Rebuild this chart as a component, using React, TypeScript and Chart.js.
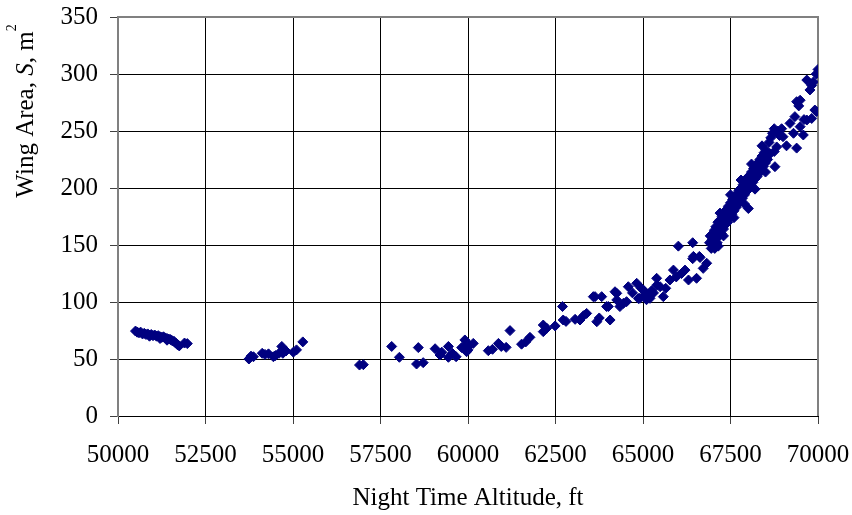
import React, { useEffect, useRef } from "react";
import { Chart, registerables } from "chart.js";

Chart.register(...registerables);

// Tick values
const xTicks = [50000, 52500, 55000, 57500, 60000, 62500, 65000, 67500, 70000];
const yTicks = [0, 50, 100, 150, 200, 250, 300, 350];

// Data: [night time altitude (ft), wing area (m^2)]
const lowAltitudeGroup: number[][] = [
  [50500, 74.5], [50550, 73.5], [50600, 73], [50650, 73.5], [50700, 72], [50750, 72.5],
  [50800, 71.5], [50850, 72], [50900, 71], [50950, 71.5], [51000, 70.5], [51050, 71],
  [51100, 70], [51150, 70.5], [51200, 69.5], [51250, 69], [51300, 69.5], [51350, 68.5],
  [51400, 68], [51450, 67.5], [51500, 67], [51550, 66], [51600, 65.5], [51650, 64],
  [51700, 62.5], [51750, 61.5], [51900, 64], [51980, 63.5], [50900, 70], [51200, 68],
  [51400, 66.5],
];

const midAltitudeGroup: number[][] = [
  [53740, 50], [53800, 52.5], [53870, 52], [54120, 55], [54200, 54], [54300, 54.5],
  [54440, 52], [54500, 53], [54600, 55], [54680, 61], [54710, 55], [54800, 57],
  [55010, 56], [55100, 58], [55280, 65], [56900, 44.7], [57010, 45],
];

const risingGroup: number[][] = [
  [57820, 61], [58040, 51.5], [58580, 60], [58530, 45.6], [58720, 46.8], [59060, 59],
  [59200, 53.5], [59250, 56], [59440, 61], [59440, 51.5], [59550, 55], [59660, 52],
  [59820, 60], [59910, 66.7], [59960, 56.4], [59910, 61], [60000, 58], [60050, 62],
  [60150, 63.7], [60580, 57.3], [60700, 58.5], [60870, 63.7], [60950, 61], [61090, 60.2],
  [61200, 74.9], [61530, 63], [61650, 65], [61770, 69], [62150, 79.8], [62150, 74],
  [62250, 77], [62490, 79], [62700, 96], [62720, 84.2], [62800, 83], [63060, 84.8],
  [63200, 84.2], [63300, 88], [63390, 90], [63580, 104.7], [63630, 104.7], [63680, 82.7],
  [63750, 86], [63820, 104.7], [63960, 96], [64010, 96], [64060, 84.2], [64200, 109],
  [64250, 107.6], [64250, 101.8], [64340, 96], [64440, 98.8], [64530, 100.3], [64580, 113.4],
  [64700, 108], [64820, 116.4], [64870, 103], [64910, 103.2], [64950, 112], [65010, 110.5],
  [65050, 106], [65100, 102], [65150, 107], [65200, 103.2], [65250, 110], [65300, 108],
  [65390, 120.8], [65400, 115], [65490, 113.4], [65580, 104.7], [65650, 112], [65770, 119.3],
  [65870, 128], [65950, 122], [66010, 149], [66100, 125], [66200, 128], [66300, 119.3],
  [66420, 152], [66420, 138], [66440, 140], [66530, 120.8], [66610, 140], [66630, 139],
  [66720, 129.5], [66820, 134],
];

const steepGroup: number[][] = [
  [66900, 152], [66920, 158], [66950, 147], [66980, 155], [67000, 160], [67020, 150],
  [67040, 163], [67060, 156], [67080, 166], [67100, 160], [67120, 152], [67140, 170],
  [67160, 163], [67180, 158], [67200, 172], [67220, 167], [67240, 160], [67260, 175],
  [67280, 170], [67300, 164], [67320, 178], [67340, 173], [67360, 168], [67380, 181],
  [67400, 176], [67420, 170], [67440, 184], [67460, 179], [67480, 174], [67500, 187],
  [67520, 182], [67540, 177], [67560, 190], [67580, 185], [67600, 180], [67620, 192],
  [67640, 187], [67660, 183], [67680, 195], [67700, 190], [67720, 186], [67740, 198],
  [67760, 193], [67780, 188], [67800, 200], [67820, 196], [67840, 191], [67860, 203],
  [67880, 198], [67900, 194], [67920, 206], [67940, 201], [67960, 197], [67980, 209],
  [68000, 204], [68010, 182], [68020, 199], [68040, 211], [68060, 207], [68080, 202],
  [68100, 214], [68120, 209], [68140, 205], [68160, 217], [68180, 212], [68200, 208],
  [68220, 220], [68240, 215], [68260, 210], [68280, 222], [68300, 218], [68320, 213],
  [68340, 225], [68360, 220], [68380, 216], [68400, 228], [68420, 223], [68440, 219],
  [68460, 231], [68480, 226], [68500, 222], [68520, 233], [68540, 229], [68560, 225],
  [68600, 240], [68630, 230], [68650, 244], [68700, 248], [68750, 252], [68750, 232],
  [68770, 218.7], [68820, 236], [68850, 250], [68900, 246], [68960, 252],
  [67050, 147], [67200, 178], [67300, 158], [67500, 194], [67600, 174], [67800, 207],
  [67900, 186], [68100, 221], [68200, 199], [68400, 237], [68500, 214], [67150, 149],
];

const topGroup: number[][] = [
  [69000, 245], [69100, 237], [69200, 256.7], [69300, 248], [69340, 262.6], [69390, 235],
  [69390, 275.7], [69450, 272], [69490, 277], [69490, 253.8], [69580, 246.5], [69600, 260],
  [69680, 259.6], [69680, 294.7], [69770, 286], [69820, 261], [69820, 290], [69870, 293],
  [69910, 268.4], [69960, 267], [69950, 300], [70000, 304],
];

const NAVY = "#000080";
const FONT_FAMILY = "'Liberation Serif', 'Times New Roman', serif";

const plotFramePlugin = {
  id: "plotFrame",
  beforeDatasetsDraw(chart: any) {
    const { ctx, chartArea } = chart;
    ctx.save();
    ctx.strokeStyle = "#808080";
    ctx.lineWidth = 2;
    ctx.beginPath();
    ctx.moveTo(chartArea.left, chartArea.top);
    ctx.lineTo(chartArea.right, chartArea.top);
    ctx.lineTo(chartArea.right, chartArea.bottom);
    ctx.stroke();
    ctx.restore();
  },
};

const yTitlePlugin = {
  id: "yTitleRich",
  afterDraw(chart: any) {
    const ctx = chart.ctx as CanvasRenderingContext2D;
    const parts = [
      { text: "Wing Area, ", font: `25px ${FONT_FAMILY}`, rise: 0 },
      { text: "S", font: `italic 25px ${FONT_FAMILY}`, rise: 0 },
      { text: ", m", font: `25px ${FONT_FAMILY}`, rise: 0 },
      { text: "2", font: `14px ${FONT_FAMILY}`, rise: 17 },
    ];
    ctx.save();
    let total = 0;
    const widths = parts.map((p) => {
      ctx.font = p.font;
      const w = ctx.measureText(p.text).width;
      total += w;
      return w;
    });
    ctx.translate(33, 111);
    ctx.rotate(-Math.PI / 2);
    ctx.fillStyle = "#000";
    ctx.textBaseline = "alphabetic";
    ctx.textAlign = "left";
    let x = -total / 2;
    parts.forEach((p, i) => {
      ctx.font = p.font;
      ctx.fillText(p.text, x, -p.rise);
      x += widths[i];
    });
    ctx.restore();
  },
};

export default function App() {
  const canvasRef = useRef<HTMLCanvasElement | null>(null);

  useEffect(() => {
    if (!canvasRef.current) return;
    const points = [
      ...lowAltitudeGroup,
      ...midAltitudeGroup,
      ...risingGroup,
      ...steepGroup,
      ...topGroup,
    ].map(([x, y]) => ({ x, y }));

    const chart = new Chart(canvasRef.current, {
      type: "scatter",
      data: {
        datasets: [
          {
            label: "Wing Area",
            data: points,
            pointStyle: "rectRot",
            pointRadius: 5,
            pointHoverRadius: 5,
            borderWidth: 1,
            backgroundColor: NAVY,
            borderColor: NAVY,
          },
        ],
      },
      options: {
        animation: false,
        responsive: true,
        maintainAspectRatio: false,
        events: [],
        layout: { padding: { top: 17, right: 34, left: 0, bottom: 0 } },
        plugins: {
          legend: { display: false },
          tooltip: { enabled: false },
        },
        scales: {
          x: {
            type: "linear",
            min: xTicks[0],
            max: xTicks[xTicks.length - 1],
            afterBuildTicks: (scale: any) => {
              scale.ticks = xTicks.map((v) => ({ value: v }));
            },
            afterFit: (scale: any) => {
              scale.height = 99;
              scale.paddingLeft = 0;
              scale.paddingRight = 0;
            },
            ticks: {
              color: "#000",
              font: { family: FONT_FAMILY, size: 25 },
              padding: 16,
              maxRotation: 0,
              autoSkip: false,
              callback: (v: any) => String(v),
            },
            grid: {
              color: "#000",
              lineWidth: 1,
              tickLength: 8,
              tickColor: "#404040",
            },
            border: { color: "#000", width: 1 },
            title: {
              display: true,
              text: "Night Time Altitude, ft",
              color: "#000",
              font: { family: FONT_FAMILY, size: 25 },
              padding: { top: 0, bottom: 2 },
            },
          },
          y: {
            type: "linear",
            min: yTicks[0],
            max: yTicks[yTicks.length - 1],
            afterBuildTicks: (scale: any) => {
              scale.ticks = yTicks.map((v) => ({ value: v }));
            },
            afterFit: (scale: any) => {
              scale.width = 118;
              scale.paddingTop = 0;
              scale.paddingBottom = 0;
            },
            ticks: {
              color: "#000",
              font: { family: FONT_FAMILY, size: 25 },
              padding: 12,
              autoSkip: false,
              callback: (v: any) => String(v),
            },
            grid: {
              color: "#000",
              lineWidth: 1,
              tickLength: 8,
              tickColor: "#404040",
            },
            border: { color: "#808080", width: 2 },
          },
        },
      },
      plugins: [plotFramePlugin, yTitlePlugin],
    });
    return () => chart.destroy();
  }, []);

  return (
    <div
      style={{
        position: "fixed",
        left: 0,
        top: 0,
        width: 852,
        height: 515,
        background: "#fff",
      }}
    >
      <canvas ref={canvasRef} />
    </div>
  );
}
